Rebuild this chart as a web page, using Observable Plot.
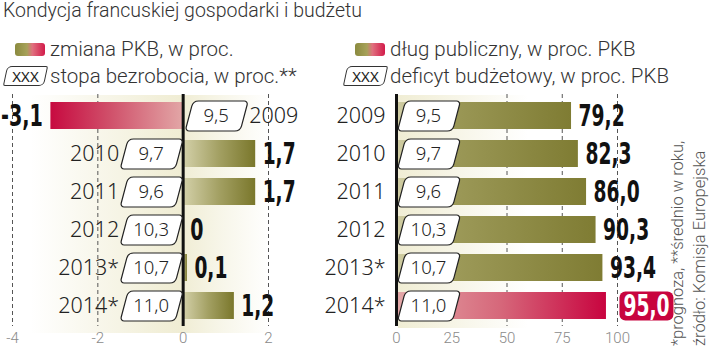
<!DOCTYPE html>
<html><head><meta charset="utf-8">
<script src="https://cdn.jsdelivr.net/npm/d3@7"></script>
<script src="https://cdn.jsdelivr.net/npm/@observablehq/plot@0.6"></script>
<style>
html,body{margin:0;padding:0;background:#fff;}
#wrap{position:relative;width:720px;height:348px;overflow:hidden;font-family:Roboto,"Noto Sans",sans-serif;color:#222;}
.title{position:absolute;left:3px;top:-1px;font-size:19.5px;font-weight:300;color:#333;white-space:nowrap;line-height:24px;}
.leg{position:absolute;font-size:20.5px;font-weight:300;color:#333;white-space:nowrap;line-height:22px;}
.sw{position:absolute;width:30px;height:13px;border-radius:3px;background:linear-gradient(to right,#8a8a3e 0%,#a7a25a 40%,#e0707e 58%,#d21a4a 100%);}
.xb{position:absolute;width:39px;height:18px;border:1.2px solid #333;border-radius:5px 2px 5px 2px;transform:skewX(-12deg);background:#fff;}
.xb span{display:block;transform:skewX(12deg);font-family:"Noto Sans",sans-serif;font-size:15px;text-align:center;line-height:18px;color:#222;}
.glowL{position:absolute;left:30px;top:95px;width:240px;height:238px;background:linear-gradient(to right,rgba(240,237,212,0) 0%,rgba(240,237,212,0.9) 55%,rgba(240,237,212,1) 63%,rgba(240,237,212,0.5) 80%,rgba(240,237,212,0) 100%);}
.glowR{position:absolute;left:398px;top:95px;width:130px;height:233px;background:linear-gradient(to right,rgba(240,237,212,1) 0%,rgba(240,237,212,0) 100%);}
.plot{position:absolute;top:90px;}
.foot{position:absolute;left:667px;top:346px;transform:rotate(-90deg);transform-origin:0 0;font-size:16.5px;font-weight:300;color:#555;line-height:22px;white-space:nowrap;}
</style>
</head><body>
<div id="wrap">
  <div class="glowL"></div>
  <div class="glowR"></div>
  <div class="title">Kondycja francuskiej gospodarki i budżetu</div>
  <div class="sw" style="left:15px;top:43px"></div>
  <div class="leg" style="left:50px;top:38px">zmiana PKB, w proc.</div>
  <div class="xb" style="left:5px;top:66px"><span>XXX</span></div>
  <div class="leg" style="left:50px;top:65px">stopa bezrobocia, w proc.**</div>
  <div class="sw" style="left:355px;top:43px"></div>
  <div class="leg" style="left:390px;top:38px">dług publiczny, w proc. PKB</div>
  <div class="xb" style="left:345px;top:66px"><span>XXX</span></div>
  <div class="leg" style="left:390px;top:65px">deficyt budżetowy, w proc. PKB</div>
  <div id="left" class="plot" style="left:0px"></div>
  <div id="right" class="plot" style="left:320px"></div>
  <div class="foot">*prognoza, **średnio w roku,<br>źródło: Komisja Europejska</div>
</div>
<script>
const years = ["2009", "2010", "2011", "2012", "2013*", "2014*"];
const gdpChange = [-3.1, 1.7, 1.7, 0, 0.1, 1.2];
const unemployment = [9.5, 9.7, 9.6, 10.3, 10.7, 11.0];
const publicDebt = [79.2, 82.3, 86.0, 90.3, 93.4, 95.0];
const budgetDeficit = [9.5, 9.7, 9.6, 10.3, 10.7, 11.0];
const gdpTicks = [-4, -2, 0, 2];
const gdpGrid = [-4, -2, 2];
const debtTicks = [0, 25, 50, 75, 100];
const debtGrid = [50, 75, 100];
const highlightYear = "2014*";

const fmt = v => v === 0 ? "0" : v.toFixed(1).replace(".", ",");
const rows = years.map((year, i) => ({year, gdp: gdpChange[i], unemp: unemployment[i], debt: publicDebt[i], deficit: budgetDeficit[i]}));
const neg = rows.filter(d => d.gdp < 0);
const pos = rows.filter(d => d.gdp >= 0);
const hi = rows.filter(d => d.year === highlightYear);
const lo = rows.filter(d => d.year !== highlightYear);

const valueFont = "DejaVu Sans Condensed, DejaVu Sans, sans-serif";
const labelFont = "'Noto Sans',sans-serif";

function slantBox(w, h, skew, rBig, rSmall) {
  return {
    draw(ctx) {
      const hw = w / 2, hh = h / 2, s = skew / 2;
      const TL = [-hw + s, -hh], TR = [hw + s, -hh], BR = [hw - s, hh], BL = [-hw - s, hh];
      ctx.moveTo(s, -hh);
      ctx.arcTo(TR[0], TR[1], BR[0], BR[1], rSmall);
      ctx.arcTo(BR[0], BR[1], BL[0], BL[1], rBig);
      ctx.arcTo(BL[0], BL[1], TL[0], TL[1], rSmall);
      ctx.arcTo(TL[0], TL[1], TR[0], TR[1], rBig);
      ctx.closePath();
    }
  };
}
const boxSym = slantBox(55, 30, 8, 7, 3);
const pillSym = slantBox(54, 29, 0, 6, 6);

function addGradients(svg, list) {
  const defs = d3.select(svg).insert("defs", ":first-child");
  for (const g of list) {
    const lg = defs.append("linearGradient").attr("id", g.id).attr("x1", "0").attr("x2", "1").attr("y1", "0").attr("y2", "0");
    g.stops.forEach(([o, c]) => lg.append("stop").attr("offset", o).attr("stop-color", c));
  }
}
// squeeze the bold value labels into a heavy condensed look
function condense(svg) {
  const cw = ch => /[0-9]/.test(ch) ? 13.2 : ch === "," ? 6.5 : ch === "-" ? 9 : 10;
  svg.querySelectorAll("g").forEach(g => {
    if (g.getAttribute("font-family") === valueFont) {
      g.querySelectorAll("text").forEach(t => {
        const s = t.textContent;
        let w = 0; for (const ch of s) w += cw(ch);
        t.setAttribute("textLength", w);
        t.setAttribute("lengthAdjust", "spacingAndGlyphs");
      });
    }
  });
}

const yOpts = {domain: years, paddingInner: 0.3, paddingOuter: 0.15, axis: null};
const common = {
  height: 258, marginTop: 4, marginBottom: 22,
  style: {fontFamily: "Roboto, sans-serif", fontSize: "15px", fontWeight: 300, color: "#8a8a8a", background: "transparent", overflow: "visible"}
};

const left = Plot.plot({
  ...common, width: 340, marginLeft: 12, marginRight: 72,
  x: {domain: [-4, 2], ticks: gdpTicks, tickFormat: d => String(d), tickSize: 0, tickPadding: 6, label: null},
  y: yOpts,
  marks: [
    Plot.ruleX(gdpGrid, {stroke: "#555", strokeDasharray: "4,3", strokeWidth: 1}),
    Plot.barX(neg, {x: "gdp", y: "year", fill: "url(#gRedL)"}),
    Plot.barX(pos, {x: "gdp", y: "year", fill: "url(#gOliveL)"}),
    Plot.ruleX([0], {stroke: "#111", strokeWidth: 3}),
    Plot.dot(pos, {x: () => 0, y: "year", symbol: boxSym, fill: "white", stroke: "#222", strokeWidth: 1.2, dx: -31.5}),
    Plot.dot(neg, {x: () => 0, y: "year", symbol: boxSym, fill: "white", stroke: "#222", strokeWidth: 1.2, dx: 33.5}),
    Plot.text(pos, {x: () => 0, y: "year", text: d => fmt(d.unemp), dx: -32, fontSize: 18.5, fontFamily: labelFont, fill: "#222"}),
    Plot.text(neg, {x: () => 0, y: "year", text: d => fmt(d.unemp), dx: 33, fontSize: 18.5, fontFamily: labelFont, fill: "#222"}),
    Plot.text(pos, {x: () => 0, y: "year", text: "year", dx: -64, textAnchor: "end", fontSize: 21.5, fontFamily: labelFont, fill: "#222"}),
    Plot.text(neg, {x: () => 0, y: "year", text: "year", dx: 66, textAnchor: "start", fontSize: 21.5, fontFamily: labelFont, fill: "#222"}),
    Plot.text(pos, {x: "gdp", y: "year", text: d => fmt(d.gdp), dx: 7, textAnchor: "start", fontSize: 31, fontWeight: "bold", fontFamily: valueFont, fill: "#111"}),
    Plot.text(neg, {x: "gdp", y: "year", text: d => fmt(d.gdp), dx: -8, textAnchor: "end", fontSize: 31, fontWeight: "bold", fontFamily: valueFont, fill: "#111"})
  ]
});
addGradients(left, [
  {id: "gRedL", stops: [["0", "#c70a40"], ["0.45", "#d0506a"], ["1", "#e2a6a6"]]},
  {id: "gOliveL", stops: [["0", "#d4d1aa"], ["0.5", "#a3a063"], ["1", "#7a772b"]]}
]);
condense(left);
document.getElementById("left").appendChild(left);

const right = Plot.plot({
  ...common, width: 360, marginLeft: 76, marginRight: 63,
  x: {domain: [0, 100], ticks: debtTicks, tickFormat: d => String(d), tickSize: 0, tickPadding: 6, label: null},
  y: yOpts,
  marks: [
    Plot.ruleX(debtGrid, {stroke: "#555", strokeDasharray: "4,3", strokeWidth: 1}),
    Plot.barX(lo, {x: "debt", y: "year", fill: "url(#gOliveR)"}),
    Plot.barX(hi, {x: "debt", y: "year", fill: "url(#gRedR)"}),
    Plot.ruleX([0], {stroke: "#111", strokeWidth: 3}),
    Plot.dot(rows, {x: () => 0, y: "year", symbol: boxSym, fill: "white", stroke: "#222", strokeWidth: 1.2, dx: 32.5}),
    Plot.text(rows, {x: () => 0, y: "year", text: d => fmt(d.deficit), dx: 32, fontSize: 18.5, fontFamily: labelFont, fill: "#222"}),
    Plot.text(rows, {x: () => 0, y: "year", text: "year", dx: -11, textAnchor: "end", fontSize: 21.5, fontFamily: labelFont, fill: "#222"}),
    Plot.text(lo, {x: "debt", y: "year", text: d => fmt(d.debt), dx: 7, textAnchor: "start", fontSize: 31, fontWeight: "bold", fontFamily: valueFont, fill: "#111"}),
    Plot.dot(hi, {x: "debt", y: "year", symbol: pillSym, fill: "#c8043f", dx: 40}),
    Plot.text(hi, {x: "debt", y: "year", text: d => fmt(d.debt), dx: 40, fontSize: 31, fontWeight: "bold", fontFamily: valueFont, fill: "white"})
  ]
});
addGradients(right, [
  {id: "gOliveR", stops: [["0", "#d2cfa6"], ["0.3", "#9c9958"], ["1", "#7f7c33"]]},
  {id: "gRedR", stops: [["0", "#e4a9a9"], ["0.5", "#d6677a"], ["1", "#c8043f"]]}
]);
condense(right);
document.getElementById("right").appendChild(right);
</script>
</body></html>
